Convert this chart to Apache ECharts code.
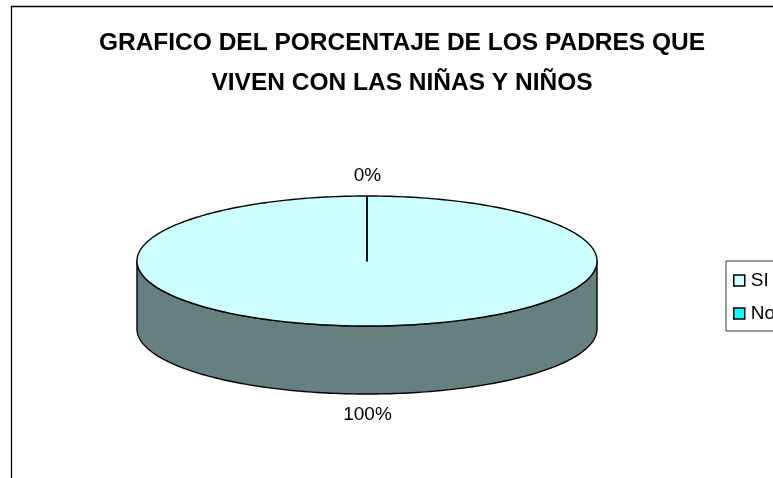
<!DOCTYPE html>
<html><head><meta charset="utf-8">
<style>html,body{margin:0;padding:0;background:#fff}#c{width:773px;height:478px}</style>
<script src="https://cdn.jsdelivr.net/npm/echarts@6/dist/echarts.min.js"></script>
</head><body><div id="c"></div>
<script>
const categories = ['SI', 'No'];
const values = [100, 0];
const percentLabels = ['100%', '0%'];
const titleLines = ['GRAFICO DEL PORCENTAJE DE LOS PADRES QUE', 'VIVEN CON LAS NIÑAS Y NIÑOS'];
const topColors = ['#CCFFFF', '#00FFFF'];
const sideColors = ['#667F7F', '#007F7F'];

const CX = 367, CY = 261, RX = 230, RY = 65, DEPTH = 68;
const total = values.reduce((a, b) => a + b, 0);

function pt(a, dy) { // a: clockwise angle from 12 o'clock
  return [CX + RX * Math.sin(a), CY - RY * Math.cos(a) + (dy || 0)];
}
function arc(a0, a1, dy) {
  const n = Math.max(1, Math.ceil(Math.abs(a1 - a0) / 0.02));
  const out = [];
  for (let i = 0; i <= n; i++) out.push(pt(a0 + (a1 - a0) * i / n, dy));
  return out;
}
function renderSlice(idx) {
  return function (params, api) {
    const before = values.slice(0, idx).reduce((a, b) => a + b, 0);
    const a0 = before / total * Math.PI * 2;
    const a1 = (before + api.value(0)) / total * Math.PI * 2;
    const children = [];
    const lineStyle = { stroke: '#000', lineWidth: 1.4, lineJoin: 'round' };
    const s = Math.max(a0, Math.PI / 2), e = Math.min(a1, Math.PI * 1.5);
    if (e > s) {
      const top = arc(s, e, 0), bottom = arc(e, s, DEPTH);
      children.push({ type: 'polygon', shape: { points: top.concat(bottom) },
        style: Object.assign({ fill: sideColors[idx] }, lineStyle) });
    }
    const face = a1 > a0 ? [[CX, CY]].concat(arc(a0, a1, 0)) : [[CX, CY], pt(a0, 0)];
    children.push({ type: 'polygon', shape: { points: face },
      style: Object.assign({ fill: topColors[idx] }, lineStyle) });
    return { type: 'group', children };
  };
}
function renderLabel(idx) {
  return function () {
    const pos = idx === 0 ? [367.5, 415] : [367.5, 176];
    return { type: 'text', x: pos[0], y: pos[1],
      style: { text: percentLabels[idx], fill: '#000', font: '19px "Liberation Sans"', align: 'center', verticalAlign: 'middle' } };
  };
}
const series = categories.map((name, i) => ({
  name, type: 'custom', coordinateSystem: 'none', silent: true, animation: false,
  itemStyle: { color: topColors[i] }, data: [[values[i]]],
  renderItem: renderSlice(i), z: i === 0 ? 2 : 3
})).concat(categories.map((name, i) => ({
  name: name + ' label', type: 'custom', coordinateSystem: 'none', silent: true, animation: false,
  data: [[values[i]]], renderItem: renderLabel(i), z: 4
})));

const chart = echarts.init(document.getElementById('c'), null, { renderer: 'canvas' });
chart.setOption({
  animation: false,
  backgroundColor: '#fff',
  title: { text: titleLines.join('\n'), left: 397, top: 18, textAlign: 'center',
    textStyle: { fontFamily: 'Liberation Sans', fontWeight: 'bold', fontSize: 24.5, lineHeight: 40, color: '#000' } },
  legend: { data: categories, orient: 'vertical', left: 726, top: 261, padding: [10, 60, 8, 7],
    itemWidth: 11, itemHeight: 11, itemGap: 14, borderColor: '#333', borderWidth: 1,
    icon: 'rect', itemStyle: { borderColor: '#000', borderWidth: 1.5 },
    textStyle: { fontFamily: 'Liberation Sans', fontSize: 19, color: '#000', padding: [0, 0, 0, 1] }, selectedMode: false },
  graphic: [{ type: 'polyline', shape: { points: [[11.5, 478], [11.5, 6.5], [773, 6.5]] },
    style: { stroke: '#000', lineWidth: 1.3, fill: null }, silent: true }],
  series
});
</script></body></html>
